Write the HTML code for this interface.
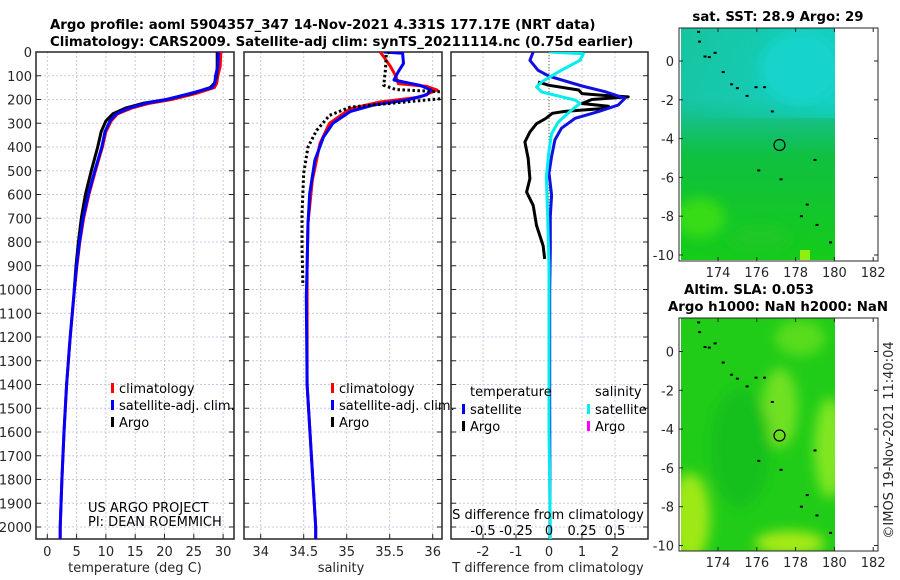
<!DOCTYPE html>
<html><head><meta charset="utf-8"><style>
html,body{margin:0;padding:0;background:#fff;}
svg{display:block;font-family:"DejaVu Sans","Liberation Sans",sans-serif;}
.tk{font-size:13px;fill:#262626;}
.tt{font-size:13.3px;font-weight:bold;fill:#000;}
.lg{font-size:13px;fill:#000;}
</style></head><body>
<svg id="fig" width="900" height="580" viewBox="0 0 900 580" xmlns="http://www.w3.org/2000/svg">
<defs>
<linearGradient id="sstg" x1="0" y1="0" x2="0" y2="1">
<stop offset="0" stop-color="#18c8a8"/><stop offset="0.3" stop-color="#1ccab4"/>
<stop offset="0.4" stop-color="#14c080"/><stop offset="0.55" stop-color="#10c040"/>
<stop offset="1" stop-color="#14cc18"/></linearGradient>
<linearGradient id="sstg2" x1="0" y1="0" x2="1" y2="0">
<stop offset="0" stop-color="#10c090" stop-opacity="0.4"/><stop offset="1" stop-color="#10d8d8" stop-opacity="0.5"/></linearGradient>
<filter id="blur"><feGaussianBlur stdDeviation="6"/></filter>
<clipPath id="cp1"><rect x="36" y="52" width="198" height="487"/></clipPath>
<clipPath id="cp2"><rect x="244" y="52" width="198" height="487"/></clipPath>
<clipPath id="cp3"><rect x="451" y="52" width="197" height="487"/></clipPath>
<clipPath id="cm1"><rect x="681" y="28" width="154" height="232"/></clipPath>
<clipPath id="cm2"><rect x="681" y="318" width="154" height="233"/></clipPath>
</defs>
<text class="tt" x="50" y="29">Argo profile: aoml 5904357_347 14-Nov-2021 4.331S 177.17E (NRT data)</text>
<text class="tt" x="50" y="46">Climatology: CARS2009. Satellite-adj clim: synTS_20211114.nc (0.75d earlier)</text>
<g id="p1"></g>
<g id="p2"></g>
<g id="p3"></g>
<g id="m1"></g>
<g id="m2"></g>
<text class="tk" transform="translate(893,440) rotate(-90)" text-anchor="middle">©IMOS 19-Nov-2021 11:40:04</text>
</svg>
<script>
// ---------- data ----------
const depthTicks=[0,100,200,300,400,500,600,700,800,900,1000,1100,1200,1300,1400,1500,1600,1700,1800,1900,2000];
const tempTicks=[0,5,10,15,20,25,30];
const salTicks=[34,34.5,35,35.5,36];
const salTickLabels=["34","34.5","35","35.5","36"];
const tdiffTicks=[-2,-1,0,1,2];
const sdiffTicks=[-0.5,-0.25,0,0.25,0.5];
const sdiffTickLabels=["-0.5","-0.25","0","0.25","0.5"];

const climDepth=[0,60,100,132,150,175,200,215,235,260,290,335,400,500,600,700,800,900,1000,1200,1400,1600,1800,2000,2060];
const climTemp=[29.6,29.5,29.1,28.9,28.5,25.3,21.2,17.6,14.5,12.0,10.9,10.0,9.4,8.2,7.1,6.2,5.55,5.05,4.65,3.9,3.3,2.85,2.5,2.2,2.2];
const satTemp=[29.2,29.1,28.7,28.6,28.1,24.3,20.4,17.0,14.1,11.8,10.7,9.85,9.3,8.1,7.0,6.1,5.5,5.0,4.6,3.9,3.3,2.85,2.5,2.2,2.2];
const argoDepth=[0,60,100,132,150,175,200,215,235,260,290,335,400,500,600,700,800,900,1000];
const argoTemp=[29.0,29.0,28.9,28.5,27.8,24.6,20.3,16.5,13.5,11.2,10.0,9.2,8.6,7.5,6.5,5.8,5.3,4.9,4.6];

const salDepth=[0,5,48,83,118,140,160,180,202,223,251,300,358,455,595,720,905,1030,1400,1700,2000,2060];
const satSal=[35.43,35.65,35.66,35.60,35.55,35.85,35.98,35.93,35.70,35.31,35.04,34.84,34.73,34.63,34.57,34.55,34.54,34.53,34.54,34.59,34.64,34.64];
const climSalDepth=[0,20,62,100,133,145,160,190,211,239,300,385,540,720,905,1030,1400,1700,2000,2060];
const climSal=[35.39,35.43,35.51,35.57,35.60,35.93,36.05,35.85,35.38,35.04,34.80,34.69,34.60,34.55,34.54,34.54,34.54,34.59,34.64,34.64];
const argoSalDepth=[0,7,77,140,158,168,196,202,232,267,330,400,510,680,820,960,985];
const argoSal=[35.50,35.46,35.45,35.43,35.57,36.12,36.12,35.93,35.04,34.80,34.65,34.55,34.50,34.48,34.48,34.49,34.49];

const diffDepth=[0,35,77,102,143,167,195,223,251,279,321,370,440,510,602,693,834,1003,1500,2000,2060];
const satTdiff=[-0.48,-0.58,-0.33,0.0,1.0,1.7,2.3,2.1,1.5,0.79,0.38,0.18,0.08,0.0,0.08,0.04,0.04,0.02,0.02,0.03,0.03];
const argoTdiffDepth=[126,140,160,175,182,189,200,217,228,237,250,258,280,302,337,379,449,533,590,646,730,815,871];
const argoTdiff=[-0.33,0.0,0.9,1.0,1.6,2.4,1.3,1.0,1.8,1.75,0.48,0.1,-0.1,-0.38,-0.58,-0.73,-0.63,-0.58,-0.68,-0.48,-0.38,-0.18,-0.13];
const sdiffDepth=[0,7,35,84,126,147,168,203,217,245,295,344,414,527,695,905,1200,1600,2000,2060];
const satSdiff=[0.0,0.26,0.235,0.07,-0.055,-0.095,-0.055,0.2,0.235,0.17,0.07,0.02,0.0,-0.02,-0.01,0.0,0.0,0.0,0.01,0.01];

const islandLon=[173.0,173.05,173.33,173.55,173.85,174.27,174.7,175.0,175.5,175.96,176.4,176.8,176.1,177.25,178.6,178.3,179.1,179.8,179.0];
const islandLat=[1.5,1.0,0.23,0.2,0.42,-0.57,-1.2,-1.4,-1.8,-1.35,-1.35,-2.6,-5.64,-6.1,-7.4,-8.0,-8.45,-9.35,-5.1];
const floatLon=177.17, floatLat=-4.331;
const lonTicks=[174,176,178,180,182];
const latTicks=[0,-2,-4,-6,-8,-10];

// ---------- helpers ----------
const NS="http://www.w3.org/2000/svg";
function mk(tag,attrs,parent){const e=document.createElementNS(NS,tag);for(const k in attrs)e.setAttribute(k,attrs[k]);parent.appendChild(e);return e;}
const yD=d=>52+d*0.2375;
const xT=t=>47.3+t*5.86;
const xS=s=>260.7+(s-34)*86;
const xTd=t=>549+t*33;
const xSd=s=>549+s*132;

function panel(g,x0,x1,xs,xticks,xlabels){
  const gl=mk('g',{},g);
  
  
  depthTicks.forEach(d=>{mk('line',{x1:x0,x2:x1,y1:yD(d),y2:yD(d),stroke:'#c8c8e8','stroke-dasharray':'2,2','stroke-width':1},gl);});
  xticks.forEach(v=>{mk('line',{x1:xs(v),x2:xs(v),y1:52,y2:539,stroke:'#c8c8e8','stroke-dasharray':'2,2','stroke-width':1},gl);});
  const ax=mk('g',{},g);
  
  
  mk('rect',{x:x0,y:52,width:x1-x0,height:487,fill:'none',stroke:'#262626','stroke-width':1.5},ax);
  depthTicks.forEach(d=>{mk('line',{x1:x0,x2:x0+5,y1:yD(d),y2:yD(d),stroke:'#262626'},ax);mk('line',{x1:x1-5,x2:x1,y1:yD(d),y2:yD(d),stroke:'#262626'},ax);});
  xticks.forEach((v,i)=>{mk('line',{x1:xs(v),x2:xs(v),y1:534,y2:539,stroke:'#262626'},ax);
    if(xlabels){const t=mk('text',{x:xs(v),y:556,'text-anchor':'middle',class:'tk'},ax);t.textContent=xlabels[i];
      
      }});
}
function line(g,xs,xf,ys,color,w,clip,dash,name){
  const pts=xs.map((v,i)=>xf(v).toFixed(1)+','+yD(ys[i]).toFixed(1)).join(' ');
  const p=mk('polyline',{points:pts,fill:'none',stroke:color,'stroke-width':w,'clip-path':'url(#'+clip+')','stroke-linejoin':'round'},g);
  if(dash)p.setAttribute('stroke-dasharray',dash);
  
  
}
function legendEntry(g,x,y,color,label){
  mk('rect',{x:x,y:y-9,width:3,height:10,fill:color},g);
  const t=mk('text',{x:x+8,y:y+1,class:'lg'},g);t.textContent=label;
  
  
}
function txt(g,x,y,s,cls,anchor,size){const t=mk('text',{x:x,y:y,class:cls,'text-anchor':anchor||'start'},g);if(size)t.setAttribute('font-size',size);t.textContent=s;return t;}

// ---------- panel 1 ----------
const p1=document.getElementById('p1');
panel(p1,36,234,xT,tempTicks,tempTicks.map(String));
depthTicks.forEach(d=>{const t=txt(p1,32,yD(d)+5,String(d),'tk','end');
  
  });
line(p1,climTemp,xT,climDepth,'#ff0000',3,'cp1',null,'climatology-temperature-line');
line(p1,argoTemp,xT,argoDepth,'#000000',3,'cp1',null,'argo-temperature-line');
line(p1,satTemp,xT,climDepth,'#0000ff',3,'cp1',null,'satellite-temperature-line');
legendEntry(p1,111,392,'#ff0000','climatology');
legendEntry(p1,111,409,'#0000ff','satellite-adj. clim.');
legendEntry(p1,111,426,'#000000','Argo');
txt(p1,88,512,'US ARGO PROJECT','lg','start','11px');
txt(p1,88,526,'PI: DEAN ROEMMICH','lg','start','11px');
const xl1=txt(p1,135,572,'temperature (deg C)','tk','middle');



// ---------- panel 2 ----------
const p2=document.getElementById('p2');
panel(p2,244,442,xS,salTicks,salTickLabels);
line(p2,climSal,xS,climSalDepth,'#ff0000',3,'cp2',null,'climatology-salinity-line');
line(p2,satSal,xS,salDepth,'#0000ff',3,'cp2',null,'satellite-salinity-line');
line(p2,argoSal,xS,argoSalDepth,'#000000',3,'cp2','2.5,2.5','argo-salinity-line');
legendEntry(p2,331,392,'#ff0000','climatology');
legendEntry(p2,331,409,'#0000ff','satellite-adj. clim.');
legendEntry(p2,331,426,'#000000','Argo');
const xl2=txt(p2,341,572,'salinity','tk','middle');



// ---------- panel 3 ----------
const p3=document.getElementById('p3');
panel(p3,451,648,xTd,tdiffTicks,tdiffTicks.map(String));
mk('line',{x1:xTd(0),x2:xTd(0),y1:52,y2:539,stroke:'#556b2f','stroke-dasharray':'1,2','stroke-width':1},p3);
line(p3,argoTdiff,xTd,argoTdiffDepth,'#000000',3,'cp3',null,'argo-temperature-difference-line');
line(p3,satTdiff,xTd,diffDepth,'#1010e0',3,'cp3',null,'satellite-temperature-difference-line');
line(p3,satSdiff,xSd,sdiffDepth,'#00eeee',3,'cp3',null,'satellite-salinity-difference-line');
txt(p3,470,396,'temperature','lg');
txt(p3,595,396,'salinity','lg');
legendEntry(p3,462,413,'#0000ff','satellite');
legendEntry(p3,462,430,'#000000','Argo');
legendEntry(p3,587,413,'#00eeee','satellite');
legendEntry(p3,587,430,'#ff00ff','Argo');
txt(p3,548,519,'S difference from climatology','lg','middle');
sdiffTicks.forEach((v,i)=>{const t=txt(p3,xSd(v),535,sdiffTickLabels[i],'lg','middle');
  
  });
const xl3=txt(p3,548,572,'T difference from climatology','tk','middle');



// ---------- maps ----------
const mx=lon=>718+(lon-174)*19.4;
function map(g,top,lat0y,clip,kind,titles){
  const my=lat=>lat0y-lat*19.4;
  const bg=mk('g',{'clip-path':'url(#'+clip+')'},g);
  if(kind==='sst'){
    mk('rect',{x:681,y:top,width:154,height:233,fill:'url(#sstg)'},bg);
    mk('rect',{x:681,y:top,width:154,height:90,fill:'url(#sstg2)'},bg);
    const f=mk('g',{filter:'url(#blur)'},bg);
    mk('ellipse',{cx:800,cy:top+40,rx:40,ry:35,fill:'#12d4cc'},f);
    mk('ellipse',{cx:700,cy:top+190,rx:25,ry:20,fill:'#38dc14'},f);
    mk('ellipse',{cx:760,cy:top+210,rx:30,ry:14,fill:'#1cc828'},f);
    mk('rect',{x:800,y:top+222,width:10,height:10,fill:'#90ee10'},bg);
  }else{
    mk('rect',{x:681,y:top,width:154,height:233,fill:'#20cc18'},bg);
    const f=mk('g',{filter:'url(#blur)'},bg);
    mk('ellipse',{cx:690,cy:top+200,rx:20,ry:45,fill:'#9ee818'},f);
    mk('ellipse',{cx:780,cy:top+90,rx:18,ry:40,fill:'#70e020'},f);
    mk('ellipse',{cx:830,cy:top+130,rx:16,ry:50,fill:'#80e620'},f);
    mk('ellipse',{cx:800,cy:top+20,rx:25,ry:18,fill:'#58dc1a'},f);
    mk('ellipse',{cx:790,cy:top+225,rx:35,ry:12,fill:'#a8ea18'},f);
    mk('ellipse',{cx:740,cy:top+130,rx:30,ry:60,fill:'#18c01c'},f);
  }
  islandLon.forEach((lon,i)=>{const r=mk('rect',{x:mx(lon)-1.5,y:my(islandLat[i])-1,width:3,height:2,fill:'#000'},bg);
    
    });
  const c=mk('circle',{cx:mx(floatLon),cy:my(floatLat),r:5.5,fill:'none',stroke:'#000','stroke-width':1.2},g);
  
  
  const bottom=top+233;
  mk('rect',{x:679,y:top,width:199,height:bottom-top,fill:'none',stroke:'#262626','stroke-width':1},g);
  lonTicks.forEach(l=>{mk('line',{x1:mx(l),x2:mx(l),y1:bottom-4,y2:bottom,stroke:'#262626'},g);mk('line',{x1:mx(l),x2:mx(l),y1:top,y2:top+4,stroke:'#262626'},g);
    txt(g,mx(l),bottom+16,String(l),'tk','middle');});
  latTicks.forEach(l=>{mk('line',{x1:679,x2:683,y1:my(l),y2:my(l),stroke:'#262626'},g);mk('line',{x1:874,x2:878,y1:my(l),y2:my(l),stroke:'#262626'},g);
    txt(g,674,my(l)+5,String(l),'tk','end');});
  titles.forEach((t,i)=>{const e=txt(g,(titles.length>1&&i===0)?749:778,top-7-(titles.length-1-i)*17,t,'tt','middle');
    
    });
}
map(document.getElementById('m1'),28,61,'cm1','sst',['sat. SST: 28.9 Argo: 29']);
map(document.getElementById('m2'),318,351.5,'cm2','sla',['Altim. SLA: 0.053','Argo h1000: NaN h2000: NaN']);
</script>
</body></html>
